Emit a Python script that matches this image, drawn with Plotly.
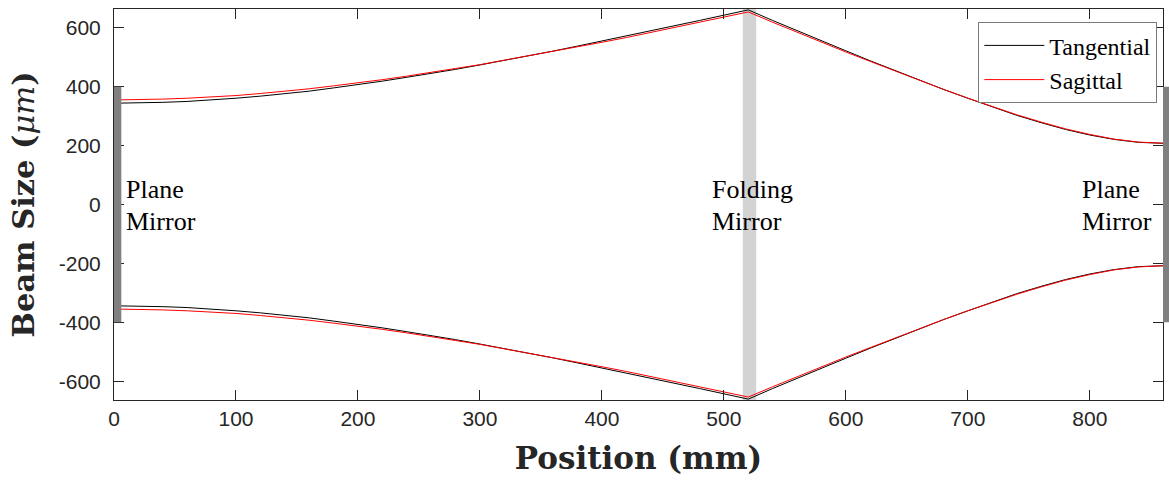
import plotly.graph_objects as go

# Positions along the cavity (mm)
position = [0, 20, 40, 60, 80, 100, 120, 140, 160, 180, 200, 220, 240, 260, 280, 300,
            320, 340, 360, 380, 400, 420, 440, 460, 480, 500, 520,
            540, 560, 580, 600, 620, 640, 660, 680, 700, 720, 740, 760, 780, 800, 820, 840, 860]

# Beam radius (um), upper envelope
tangential_upper = [344, 345, 347, 350, 355, 361, 368, 376, 385, 396, 407, 419, 432, 445, 459, 474,
                    489, 505, 521, 538, 555, 572, 589, 607, 625, 643, 661,
                    625, 590, 556, 522, 488, 455, 423, 391, 361, 331, 303, 278, 255, 236, 221, 211, 208]
sagittal_upper = [355, 356, 358, 361, 365, 370, 377, 384, 393, 403, 413, 424, 436, 448, 462, 475,
                  490, 504, 520, 535, 551, 567, 584, 601, 618, 636, 654,
                  619, 585, 552, 518, 486, 454, 422, 391, 361, 332, 305, 280, 257, 238, 222, 212, 208]
# lower envelope
tangential_lower = [-344, -345, -347, -350, -355, -361, -368, -376, -385, -396, -407, -419, -432, -445, -459, -474,
                    -489, -505, -521, -538, -555, -572, -589, -607, -625, -643, -661,
                    -625, -590, -556, -522, -488, -455, -423, -391, -361, -331, -303, -278, -255, -236, -221, -211, -208]
sagittal_lower = [-355, -356, -358, -361, -365, -370, -377, -384, -393, -403, -413, -424, -436, -448, -462, -475,
                  -490, -504, -520, -535, -551, -567, -584, -601, -618, -636, -654,
                  -619, -585, -552, -518, -486, -454, -422, -391, -361, -332, -305, -280, -257, -238, -222, -212, -208]

x_ticks = [0, 100, 200, 300, 400, 500, 600, 700, 800]
x_ticklabels = ["0", "100", "200", "300", "400", "500", "600", "700", "800"]
y_ticks = [-600, -400, -200, 0, 200, 400, 600]
y_ticklabels = ["-600", "-400", "-200", "0", "200", "400", "600"]

mirror_line1 = ["Plane", "Folding", "Plane"]
mirror_line2 = ["Mirror", "Mirror", "Mirror"]
mirror_label_x = [8, 489, 792]

X_MAX = 860
Y_LIM = 664
FOLD_X = [515.5, 526.5]
MIRROR_HALF = 400
LINE1_Y = 50
LINE2_Y = -57

AX = "#262626"
fig = go.Figure()
fig.add_trace(go.Scatter(x=position, y=tangential_upper, mode="lines", name="Tangential",
                         line=dict(color="black", width=1)))
fig.add_trace(go.Scatter(x=position, y=sagittal_upper, mode="lines", name="Sagittal",
                         line=dict(color="red", width=1)))
fig.add_trace(go.Scatter(x=position, y=tangential_lower, mode="lines", showlegend=False,
                         line=dict(color="black", width=1)))
fig.add_trace(go.Scatter(x=position, y=sagittal_lower, mode="lines", showlegend=False,
                         line=dict(color="red", width=1)))

# folding mirror
fig.add_shape(type="rect", xref="x", yref="paper", x0=FOLD_X[0], x1=FOLD_X[1], y0=0, y1=1,
              fillcolor="#d3d3d3", line=dict(width=0), layer="below")
# left plane mirror
fig.add_shape(type="rect", xref="x", yref="y", x0=0, x1=6, y0=-MIRROR_HALF, y1=MIRROR_HALF,
              fillcolor="#808080", line=dict(width=0), layer="above")
# right plane mirror (outside the axes)
fig.add_shape(type="rect", xref="paper", yref="y", x0=1.0, x1=1.0 + 7 / 1049.0,
              y0=-MIRROR_HALF, y1=MIRROR_HALF,
              fillcolor="#808080", line=dict(width=0), layer="above")

for t1, t2, xx in zip(mirror_line1, mirror_line2, mirror_label_x):
    for txt, yy in ((t1, LINE1_Y), (t2, LINE2_Y)):
        fig.add_annotation(x=xx, y=yy, xref="x", yref="y", text=txt, showarrow=False,
                           xanchor="left", yanchor="middle", align="left",
                           font=dict(family="Liberation Serif", size=26, color="black"))

fig.update_layout(
    width=1169, height=481,
    margin=dict(l=114, r=6, t=9, b=81),
    paper_bgcolor="white", plot_bgcolor="white",
    showlegend=True,
    legend=dict(x=0.9946, xanchor="right", y=0.966, yanchor="top",
                bgcolor="white", bordercolor="#7a7a7a", borderwidth=1,
                font=dict(family="Liberation Serif", size=24, color="black"),
                tracegroupgap=0, itemwidth=60),
)
fig.update_xaxes(range=[0, X_MAX], tickvals=x_ticks, ticktext=x_ticklabels,
                 ticks="inside", ticklen=10, tickcolor=AX, tickwidth=1,
                 showline=True, linecolor=AX, linewidth=1, mirror="allticks",
                 showgrid=False, zeroline=False,
                 tickfont=dict(family="Liberation Sans", size=21, color=AX),
                 title=dict(text="Position (mm)", standoff=18,
                            font=dict(family="DejaVu Serif", size=31, color=AX, weight="bold")))
fig.update_yaxes(range=[-Y_LIM, Y_LIM], tickvals=y_ticks, ticktext=y_ticklabels,
                 ticks="inside", ticklen=10, tickcolor=AX, tickwidth=1,
                 showline=True, linecolor=AX, linewidth=1, mirror="allticks",
                 showgrid=False, zeroline=False, ticklabelstandoff=8,
                 tickfont=dict(family="Liberation Sans", size=21, color=AX),
                 title=dict(text="<b>Beam Size (</b><i>μm</i><b>)</b>", standoff=15,
                            font=dict(family="DejaVu Serif", size=30.5, color=AX)))

fig.write_html("out.html")
